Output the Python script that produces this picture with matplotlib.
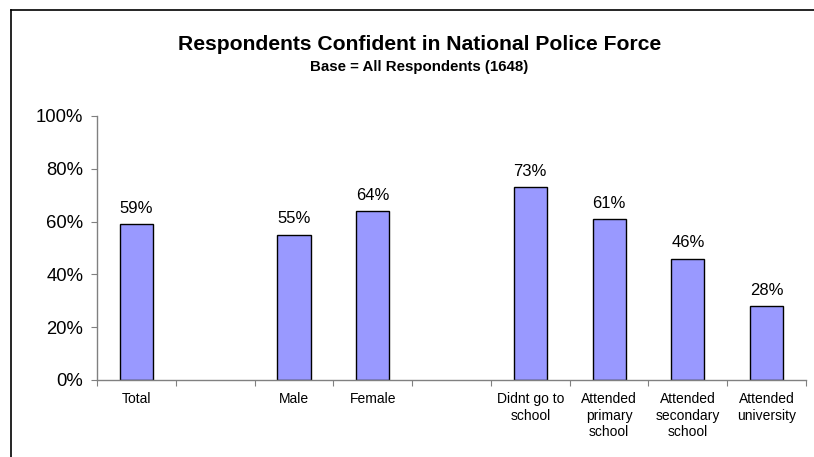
import matplotlib.pyplot as plt
import numpy as np
from matplotlib.lines import Line2D

plt.rcParams['font.family'] = ['Liberation Sans', 'DejaVu Sans']

categories = ['Total', '', 'Male', 'Female', '', 'Didnt go to\nschool',
              'Attended\nprimary\nschool', 'Attended\nsecondary\nschool',
              'Attended\nuniversity']
values = [59, None, 55, 64, None, 73, 61, 46, 28]
yticks = [0, 20, 40, 60, 80, 100]

fig = plt.figure(figsize=(8.14, 4.57), dpi=100)
ax = fig.add_axes([0.1192, 0.1685, 0.8710, 0.5777])

x = np.arange(len(categories))
for xi, v in zip(x, values):
    if v is None:
        continue
    ax.bar(xi, v, width=0.42, color='#9999FF', edgecolor='black', linewidth=1.0)
    ax.text(xi, v + 4.3, f'{v}%', ha='center', va='baseline', fontsize=12)

ax.set_xlim(-0.5, len(categories) - 0.5)
ax.set_ylim(0, 100)
ax.set_yticks(yticks)
ax.set_yticklabels([f'{t}%' for t in yticks], fontsize=13.3)

# category ticks sit between the slots, labels under the slot centres
ax.set_xticks(np.arange(len(categories) + 1) - 0.5)
ax.set_xticklabels([])
ax.set_xticks(x, minor=True)
ax.set_xticklabels(categories, minor=True, fontsize=10, linespacing=1.2)
ax.tick_params(axis='x', which='minor', length=0, pad=9)
ax.tick_params(axis='x', which='major', length=4, color='#808080', direction='out')
ax.tick_params(axis='y', length=4, color='#808080', direction='out', pad=6)

for side in ['top', 'right']:
    ax.spines[side].set_visible(False)
for side in ['left', 'bottom']:
    ax.spines[side].set_color('#808080')
    ax.spines[side].set_linewidth(1.0)

fig.text(0.515, 1 - 50 / 457, 'Respondents Confident in National Police Force',
         ha='center', va='baseline', fontsize=15.2, fontweight='bold')
fig.text(0.515, 1 - 70.5 / 457, 'Base = All Respondents (1648)',
         ha='center', va='baseline', fontsize=10.8, fontweight='bold')

# chart-area frame, left and top edges
fig.add_artist(Line2D([11 / 814, 11 / 814], [0, 1 - 10 / 457], color='black', lw=1.2))
fig.add_artist(Line2D([11 / 814, 1], [1 - 10 / 457, 1 - 10 / 457], color='black', lw=1.2))

fig.savefig('out.png', dpi=100)
